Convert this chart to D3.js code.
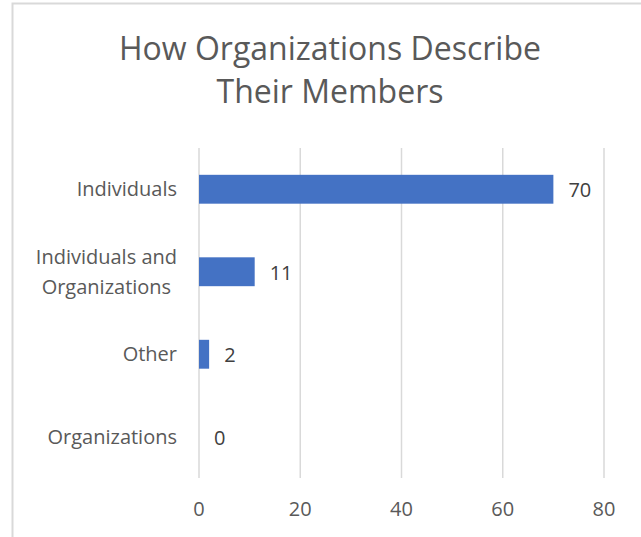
<!doctype html>
<head>
  <meta charset="utf-8">
  <script src="https://cdnjs.cloudflare.com/ajax/libs/d3/7.8.2/d3.min.js"></script>
</head>
<style>
    body { margin: 0; background: #fff; }
    svg { display: block; font-family: "Open Sans", sans-serif; }
</style>
<body>
    <div id="chart"></div>
    <script>
        // Datos del gráfico
        const categories = ["Individuals", "Individuals and Organizations", "Other", "Organizations"];
        const categoryLines = [["Individuals"], ["Individuals and", "Organizations"], ["Other"], ["Organizations"]];
        const values = [70, 11, 2, 0];
        const xTicks = [0, 20, 40, 60, 80];
        const titleLines = ["How Organizations Describe", "Their Members"];

        const width = 641, height = 537;
        const svg = d3.select('#chart').append('svg')
            .attr('width', width)
            .attr('height', height);

        // Borde del área del gráfico (recortado a la derecha y abajo)
        svg.append('path')
            .attr('d', `M12.5,${height} V3.5 H${width}`)
            .attr('fill', 'none')
            .attr('stroke', '#d9d9d9')
            .attr('stroke-width', 2);

        // Título
        svg.append('text')
            .attr('text-anchor', 'middle')
            .attr('fill', '#595959')
            .style('font-size', '32px')
            .selectAll('tspan')
            .data(titleLines)
            .enter()
            .append('tspan')
            .attr('x', 330)
            .attr('y', (d, i) => 60 + i * 43)
            .text(d => d);

        const x = d3.scaleLinear().domain([0, 80]).range([199, 604]);
        const y = d3.scaleBand().domain(categories).range([148, 478])
            .paddingInner(0.65).paddingOuter(0.325);

        // Líneas de cuadrícula
        svg.append('g')
            .selectAll('line')
            .data(xTicks)
            .enter()
            .append('line')
            .attr('x1', d => x(d)).attr('x2', d => x(d))
            .attr('y1', 148).attr('y2', 478)
            .attr('stroke', '#d9d9d9')
            .attr('stroke-width', 1.5);

        // Etiquetas del eje x
        svg.append('g')
            .selectAll('text')
            .data(xTicks)
            .enter()
            .append('text')
            .attr('x', d => x(d))
            .attr('y', 516)
            .attr('text-anchor', 'middle')
            .attr('fill', '#595959')
            .style('font-size', '20px')
            .text(d => d);

        // Barras
        svg.append('g')
            .selectAll('rect')
            .data(values)
            .enter()
            .append('rect')
            .attr('x', x(0))
            .attr('y', (d, i) => y(categories[i]))
            .attr('width', d => x(d) - x(0))
            .attr('height', y.bandwidth())
            .attr('fill', '#4472c4');

        // Etiquetas de valor
        svg.append('g')
            .selectAll('text')
            .data(values)
            .enter()
            .append('text')
            .attr('x', d => x(d) + 15)
            .attr('y', (d, i) => y(categories[i]) + y.bandwidth() / 2 + 8)
            .attr('fill', '#404040')
            .style('font-size', '20px')
            .text(d => d);

        // Etiquetas de categoría
        const labels = svg.append('g')
            .selectAll('text')
            .data(categoryLines)
            .enter()
            .append('text')
            .attr('fill', '#595959')
            .style('font-size', '20px')
            .attr('text-anchor', 'middle');

        labels.each(function (lines, i) {
            const cy = y(categories[i]) + y.bandwidth() / 2;
            const t = d3.select(this);
            t.selectAll('tspan')
                .data(lines)
                .enter()
                .append('tspan')
                .attr('x', 0)
                .attr('y', (d, j) => cy + 7 + (j - (lines.length - 1) / 2) * 30)
                .text(d => d);
            // alinear a la derecha el bloque, centrando las líneas
            const w = this.getBBox().width;
            t.selectAll('tspan').attr('x', 177 - w / 2);
        });
    </script>
</body>
